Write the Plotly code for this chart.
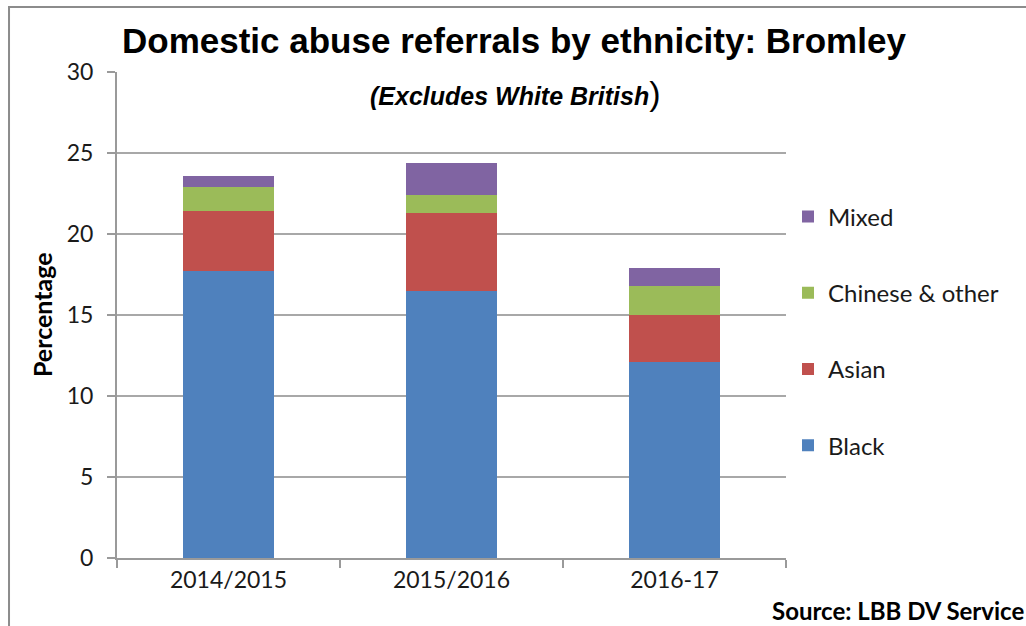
import plotly.graph_objects as go

# Referral shares (%) by ethnic group, White British excluded
years = ["2014/2015", "2015/2016", "2016-17"]
black = [17.7, 16.5, 12.1]
asian = [3.7, 4.8, 2.9]
chinese_other = [1.5, 1.1, 1.8]
mixed = [0.7, 2.0, 1.1]

y_ticks = [0, 5, 10, 15, 20, 25, 30]

# (name, values, colour, legend rank) - stacked bottom to top, listed top to bottom
series = [
    ("Black", black, "#4F81BD", 4),
    ("Asian", asian, "#C0504D", 3),
    ("Chinese & other", chinese_other, "#9BBB59", 2),
    ("Mixed", mixed, "#8064A2", 1),
]

BODY_FONT = "Lato"
HEAD_FONT = "Liberation Sans"

fig = go.Figure()
for name, vals, color, rank in series:
    fig.add_trace(go.Bar(
        x=years, y=vals, name=name, legendgroup=name, legendrank=rank,
        marker=dict(color=color, line=dict(width=0)),
    ))

fig.update_layout(
    width=1026, height=626,
    margin=dict(l=117, r=240, t=72, b=68),
    barmode="stack", bargap=0.596,
    paper_bgcolor="white", plot_bgcolor="white",
    font=dict(family=BODY_FONT, size=23, color="#1a1a1a"),
    showlegend=True,
    legend=dict(
        x=1.003, xanchor="left", y=0.748, yanchor="top",
        traceorder="grouped", tracegroupgap=42,
        font=dict(family=BODY_FONT, size=24, color="#1a1a1a"),
        bgcolor="rgba(0,0,0,0)",
    ),
    xaxis=dict(
        showline=True, linecolor="#9a9a9a", linewidth=2,
        ticks="outside", tickson="boundaries", ticklen=8,
        tickcolor="#9a9a9a", tickwidth=2,
        tickfont=dict(family=BODY_FONT, size=23, color="#1a1a1a"),
        showgrid=False, zeroline=False,
    ),
    yaxis=dict(
        range=[0, 30], tickvals=y_ticks,
        showline=True, linecolor="#9a9a9a", linewidth=2,
        ticks="outside", ticklen=8, tickcolor="#9a9a9a", tickwidth=2,
        tickfont=dict(family=BODY_FONT, size=23, color="#1a1a1a"),
        showgrid=True, gridcolor="#a8a8a8", gridwidth=1.5,
        zeroline=False, ticklabelstandoff=9,
    ),
)

# Outer frame around the figure
fig.add_shape(type="rect", xref="paper", yref="paper",
              x0=-0.1614, y0=-0.2, x1=1.40, y1=1.1337,
              line=dict(color="#8c8c8c", width=2), layer="below")

fig.add_annotation(
    text="<b>Domestic abuse referrals by ethnicity: Bromley</b>",
    xref="paper", yref="paper", x=0.5934, y=1.064,
    xanchor="center", yanchor="middle", showarrow=False,
    font=dict(family=HEAD_FONT, size=35, color="#000000"),
)
fig.add_annotation(
    text="<b><i>(Excludes White British</i></b><span style='font-size:34px'>)</span>",
    xref="paper", yref="paper", x=0.5964, y=0.957,
    xanchor="center", yanchor="middle", showarrow=False,
    font=dict(family=HEAD_FONT, size=25, color="#000000"),
)
fig.add_annotation(
    text="<b>Percentage</b>",
    xref="paper", yref="paper", x=-0.112, y=0.5,
    xanchor="center", yanchor="middle", textangle=-90, showarrow=False,
    font=dict(family=BODY_FONT, size=25, color="#000000"),
)
fig.add_annotation(
    text="<b>Source: LBB DV Service</b>",
    xref="paper", yref="paper", x=1.3587, y=-0.107,
    xanchor="right", yanchor="middle", showarrow=False,
    font=dict(family=BODY_FONT, size=24, color="#000000"),
)

fig.write_html("out.html")
